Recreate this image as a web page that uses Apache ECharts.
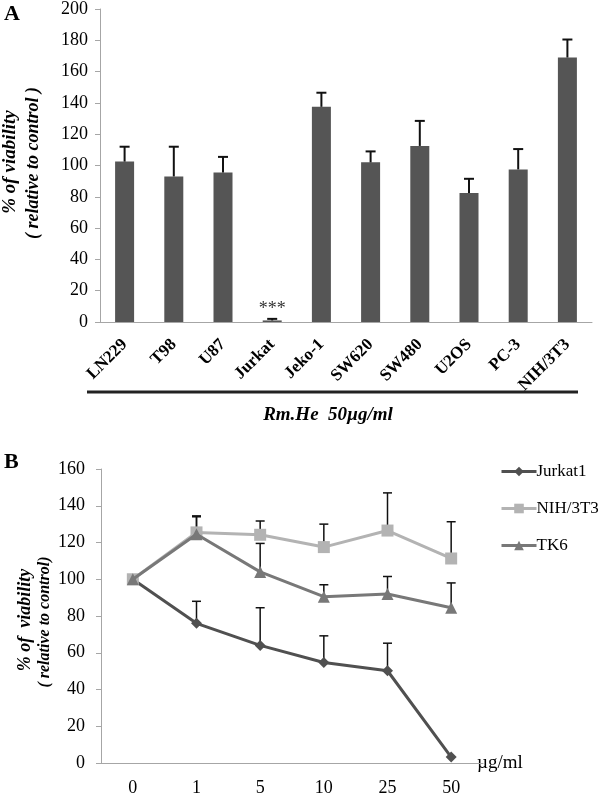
<!DOCTYPE html>
<html>
<head>
<meta charset="utf-8">
<script src="https://cdn.jsdelivr.net/npm/echarts@6/dist/echarts.min.js"></script>
<style>html,body{margin:0;padding:0;background:#fff}#c{width:600px;height:797px}</style>
</head>
<body>
<div id="c"></div>
<script>
// Panel A data
const cellLinesA = ['LN229','T98','U87','Jurkat','Jeko-1','SW620','SW480','U2OS','PC-3','NIH/3T3'];
const viabilityA = [102.5, 93, 95.5, 1, 137.5, 102, 112.5, 82.5, 97.5, 169];
const errorA = [9.5, 19, 10, 1, 9, 7, 16, 9, 13, 11.5];
const signifA = ['', '', '', '***', '', '', '', '', '', ''];
const yTicksA = [0, 200, 20];

// Panel B data
const doses = ['0','1','5','10','25','50'];
const jurkat1 = [100, 76, 64, 54.7, 50.2, 3.2];
const jurkat1Err = [0, 12, 20.5, 14.5, 15, 0];
const nih3t3 = [100, 125.5, 124.2, 117.5, 126.5, 111.3];
const nih3t3Err = [0, 9, 7.5, 12.5, 20.5, 20];
const tk6 = [100, 124.5, 104, 90.5, 92, 84.5];
const tk6Err = [0, 9.5, 15.5, 6.5, 9.5, 13.5];
const yTicksB = [0, 160, 20];

const serif = '"Liberation Serif", "DejaVu Serif", serif';
const axisGray = '#a6a6a6';

function errSeries(name, xi, yi, vals, errs, lw, capHalf, z) {
  return {
    type: 'custom', name: name, xAxisIndex: xi, yAxisIndex: yi, z: z, silent: true,
    data: vals.map((v, i) => [i, v, errs[i]]),
    renderItem: function (params, api) {
      const x = api.value(0), y = api.value(1), e = api.value(2);
      if (!e) return null;
      const p0 = api.coord([x, y]);
      const p1 = api.coord([x, y + e]);
      return {
        type: 'group',
        children: [
          {type: 'line', shape: {x1: p0[0], y1: p0[1], x2: p1[0], y2: p1[1]}, style: {stroke: '#111', lineWidth: lw}},
          {type: 'line', shape: {x1: p1[0] - capHalf, y1: p1[1], x2: p1[0] + capHalf, y2: p1[1]}, style: {stroke: '#111', lineWidth: lw}}
        ]
      };
    }
  };
}

const chart = echarts.init(document.getElementById('c'), null, {renderer: 'canvas'});
const option = {
  backgroundColor: '#fff',
  animation: false,
  grid: [
    {left: 100, right: 8, top: 7.5, height: 314.5},
    {left: 101, width: 382, top: 469, height: 298.7}
  ],
  xAxis: [
    {
      type: 'category', gridIndex: 0, data: cellLinesA,
      axisLine: {lineStyle: {color: axisGray, width: 1}},
      axisTick: {lineStyle: {color: axisGray}, length: 5},
      axisLabel: {rotate: 45, margin: 20, color: '#000', fontFamily: serif, fontWeight: 'bold', fontSize: 17, interval: 0}
    },
    {
      type: 'category', gridIndex: 1, data: doses,
      axisLine: {lineStyle: {color: axisGray, width: 1}},
      axisTick: {lineStyle: {color: axisGray}, length: 5},
      axisLabel: {margin: 16, color: '#000', fontFamily: serif, fontSize: 18, interval: 0},
      name: 'µg/ml', nameLocation: 'end', nameGap: -6,
      nameTextStyle: {color: '#000', fontFamily: serif, fontSize: 19, align: 'left', verticalAlign: 'middle'}
    }
  ],
  yAxis: [
    {
      type: 'value', gridIndex: 0, min: yTicksA[0], max: yTicksA[1], interval: yTicksA[2],
      splitLine: {show: false},
      axisLine: {show: true, lineStyle: {color: axisGray, width: 1}},
      axisTick: {show: true, lineStyle: {color: axisGray}, length: 5},
      axisLabel: {margin: 12, color: '#000', fontFamily: serif, fontSize: 18}
    },
    {
      type: 'value', gridIndex: 1, min: yTicksB[0], max: yTicksB[1], interval: yTicksB[2],
      splitLine: {show: false},
      axisLine: {show: true, lineStyle: {color: axisGray, width: 1}},
      axisTick: {show: true, lineStyle: {color: axisGray}, length: 5},
      axisLabel: {margin: 16, color: '#000', fontFamily: serif, fontSize: 18}
    }
  ],
  legend: {
    orient: 'vertical', left: 495, top: 458, itemWidth: 35, itemHeight: 12, itemGap: 20,
    data: ['Jurkat1', 'NIH/3T3', 'TK6'],
    lineStyle: {width: 3},
    textStyle: {color: '#000', fontFamily: serif, fontSize: 17, padding: [0, 0, 0, -5]}
  },
  series: [
    {
      type: 'bar', name: 'viability', xAxisIndex: 0, yAxisIndex: 0, barWidth: 19,
      itemStyle: {color: '#555555'},
      data: viabilityA.map((v, i) => signifA[i] ? {
        value: v,
        label: {show: true, position: 'top', distance: 2, formatter: signifA[i], color: '#333', fontFamily: serif, fontSize: 18}
      } : v)
    },
    errSeries('errA', 0, 0, viabilityA, errorA, 2, 5, 3),
    errSeries('errJ', 1, 1, jurkat1, jurkat1Err, 1.5, 4.5, 1),
    errSeries('errN', 1, 1, nih3t3, nih3t3Err, 1.5, 4.5, 1),
    errSeries('errT', 1, 1, tk6, tk6Err, 1.5, 4.5, 1),
    {
      type: 'line', name: 'Jurkat1', xAxisIndex: 1, yAxisIndex: 1, data: jurkat1, z: 2,
      symbol: 'diamond', symbolSize: 11, showAllSymbol: true,
      lineStyle: {color: '#505050', width: 3}, itemStyle: {color: '#505050'}
    },
    {
      type: 'line', name: 'NIH/3T3', xAxisIndex: 1, yAxisIndex: 1, data: nih3t3, z: 3,
      symbol: 'rect', symbolSize: 12, showAllSymbol: true,
      lineStyle: {color: '#b3b3b3', width: 3}, itemStyle: {color: '#b3b3b3'}
    },
    {
      type: 'line', name: 'TK6', xAxisIndex: 1, yAxisIndex: 1, data: tk6, z: 4,
      symbol: 'triangle', symbolSize: 12, showAllSymbol: true,
      lineStyle: {color: '#787878', width: 3}, itemStyle: {color: '#787878'}
    }
  ],
  graphic: [
    {type: 'text', left: 4, top: 3, style: {text: 'A', font: 'bold 22px ' + serif, fill: '#000'}},
    {type: 'text', left: 4, top: 451, style: {text: 'B', font: 'bold 22px ' + serif, fill: '#000'}},
    {type: 'text', x: 10, y: 162, rotation: Math.PI / 2,
      style: {text: '% of viability', font: 'italic bold 19px ' + serif, fill: '#000', align: 'center', verticalAlign: 'middle'}},
    {type: 'text', x: 33, y: 163, rotation: Math.PI / 2,
      style: {text: '( relative to control )', font: 'italic bold 18px ' + serif, fill: '#000', align: 'center', verticalAlign: 'middle'}},
    {type: 'line', shape: {x1: 87, y1: 392, x2: 578, y2: 392}, style: {stroke: '#222', lineWidth: 3}},
    {type: 'text', x: 328, y: 415,
      style: {text: 'Rm.He  50µg/ml', font: 'italic bold 19px ' + serif, fill: '#000', align: 'center', verticalAlign: 'middle'}},
    {type: 'text', x: 25, y: 620, rotation: Math.PI / 2,
      style: {text: '% of  viability', font: 'italic bold 18px ' + serif, fill: '#000', align: 'center', verticalAlign: 'middle'}},
    {type: 'text', x: 45, y: 622, rotation: Math.PI / 2,
      style: {text: '( relative to control)', font: 'italic bold 16px ' + serif, fill: '#000', align: 'center', verticalAlign: 'middle'}}
  ]
};
chart.setOption(option);
</script>
</body>
</html>
